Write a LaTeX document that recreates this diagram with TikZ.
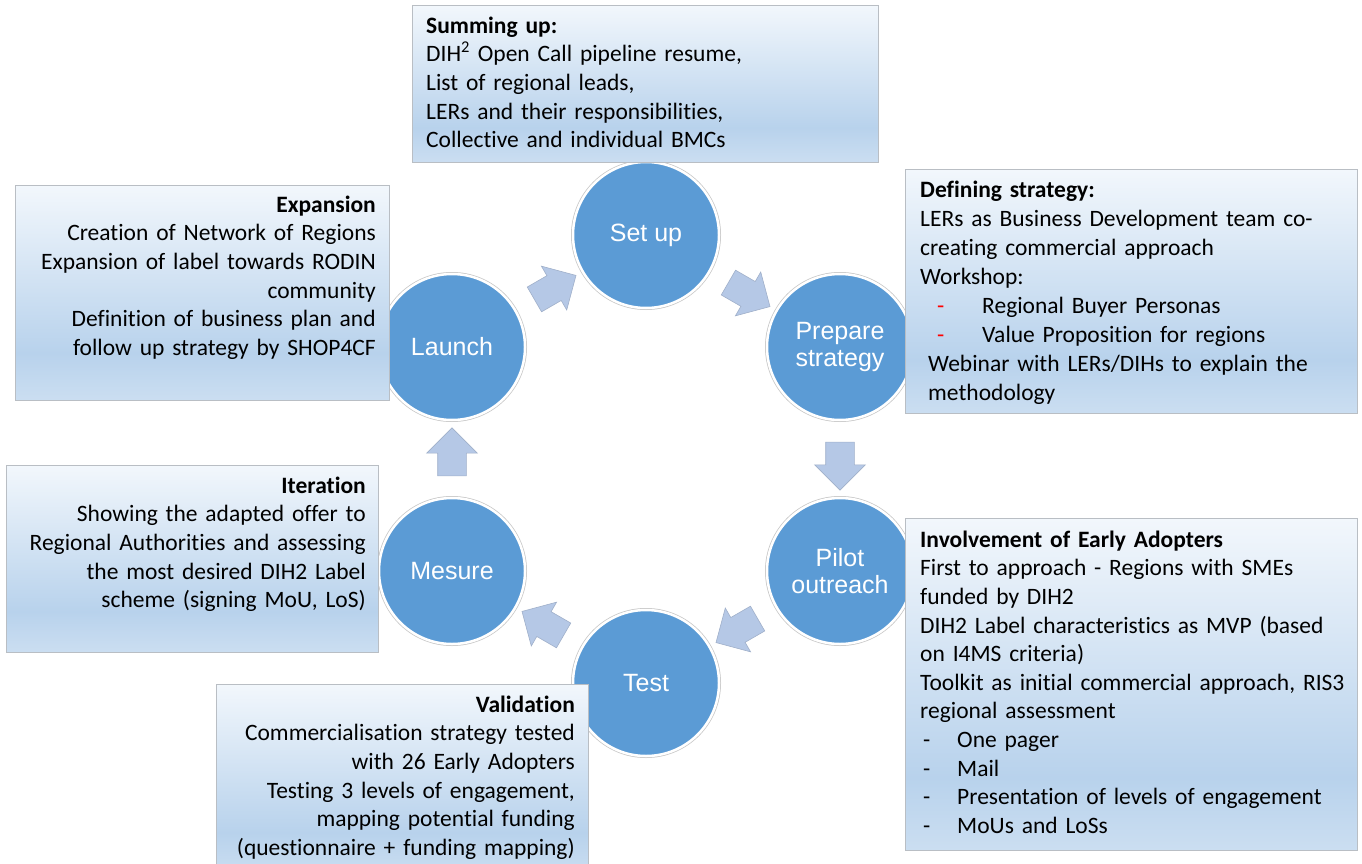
\documentclass[tikz,border=0pt]{standalone}
\usepackage{fontspec}
\setmainfont{Carlito}[Ligatures={NoCommon,NoContextual}]
\newfontfamily\arialfont{Liberation Sans}
\usetikzlibrary{shapes.arrows,calc}
\definecolor{circblue}{RGB}{91,155,213}
\definecolor{arrfill}{RGB}{181,200,230}
\definecolor{arrline}{RGB}{160,176,202}
\definecolor{boxline}{RGB}{185,190,196}
\definecolor{gtop}{RGB}{242,247,252}
\definecolor{gmid}{RGB}{184,210,236}
\definecolor{gbot}{RGB}{203,222,241}
\pgfdeclareverticalshading{boxgrad}{100bp}{color(0bp)=(gbot); color(25bp)=(gbot); color(36bp)=(gmid); color(75bp)=(gtop); color(100bp)=(gtop)}
\begin{document}
\begin{tikzpicture}[x=1pt,y=-1pt,
  stage/.style={circle, fill=circblue, draw=white, line width=2.5pt,
    preaction={draw=black!22, line width=4pt},
    minimum size=146pt, inner sep=0pt, text=white,
    font=\arialfont\fontsize{25}{27}\selectfont, align=center},
  cycarrow/.style={single arrow, fill=arrfill, draw=arrline, line width=0.6pt,
    minimum height=48pt, single arrow head extend=11pt,
    single arrow tip angle=90, inner sep=0pt},
  infobox/.style={draw=boxline, line width=1pt, shading=boxgrad, inner sep=0pt, anchor=north west},
  boxtext/.style={inner sep=0pt, text=black, font=\fontsize{23.5}{28.6}\selectfont},
]
\useasboundingbox (0,0) rectangle (1362,864);
\fill[white] (0,0) rectangle (1362,864);

% stages of the cycle
\node[stage] (setup)  at (646,235) {Set up};
\node[stage] (prep)   at (840,347) {Prepare\\strategy};
\node[stage] (pilot)  at (840,571) {Pilot\\outreach};
\node[stage] (test)   at (646,683) {Test};
\node[stage] (mesure) at (452,571) {Mesure};
\node[stage] (launch) at (452,347) {Launch};

% block arrows between stages
\node[cycarrow, rotate=-30]  (a1) at ($(setup)!0.5!(prep)$) {\rule{0pt}{28pt}};
\node[cycarrow, rotate=-90]  (a2) at ($(prep)!0.5!(pilot)$) {\rule{0pt}{28pt}};
\node[cycarrow, rotate=-150] (a3) at ($(pilot)!0.5!(test)$) {\rule{0pt}{28pt}};
\node[cycarrow, rotate=150]  (a4) at ($(test)!0.5!(mesure)$) {\rule{0pt}{28pt}};
\node[cycarrow, rotate=90]   (a5) at ($(mesure)!0.5!(launch)$) {\rule{0pt}{28pt}};
\node[cycarrow, rotate=30]   (a6) at ($(launch)!0.5!(setup)$) {\rule{0pt}{28pt}};

% text boxes
\node[infobox, minimum width=466pt, minimum height=157pt] (sumbox) at (412,5) {};
\node[infobox, minimum width=452pt, minimum height=244pt] (defbox) at (905,169) {};
\node[infobox, minimum width=452pt, minimum height=332pt] (invbox) at (905,518) {};
\node[infobox, minimum width=372pt, minimum height=190pt] (valbox) at (216,684) {};
\node[infobox, minimum width=372pt, minimum height=187pt] (itbox)  at (6,465) {};
\node[infobox, minimum width=374pt, minimum height=215pt] (expbox) at (15,185) {};

\node[boxtext, anchor=north west, text width=440pt, align=left] (sumtxt) at (426,13) {%
\strut\textbf{Summing up:}\\
DIH\textsuperscript{2} Open Call pipeline resume,\\
List of regional leads,\\
LERs and their responsibilities,\\
Collective and individual BMCs};

\node[boxtext, anchor=north west, text width=440pt, align=left,
  font=\fontsize{23.5}{29}\selectfont] (deftxt) at (920,176.7) {%
\strut\textbf{Defining strategy:}\\
LERs as Business Development team co-\\
creating commercial approach\\
Workshop:\\
\hspace*{17pt}\makebox[45pt][l]{\textcolor{red}{-}}Regional Buyer Personas\\
\hspace*{17pt}\makebox[45pt][l]{\textcolor{red}{-}}Value Proposition for regions\\
\hspace*{8pt}Webinar with LERs/DIHs to explain the\\
\hspace*{8pt}methodology};

\node[boxtext, anchor=north west, text width=440pt, align=left] (invtxt) at (920,527) {%
\strut\textbf{Involvement of Early Adopters}\\
First to approach - Regions with SMEs\\
funded by DIH2\\
DIH2 Label characteristics as MVP (based\\
on I4MS criteria)\\
Toolkit as initial commercial approach, RIS3\\
regional assessment\\
\hspace*{3pt}\makebox[34pt][l]{-}One pager\\
\hspace*{3pt}\makebox[34pt][l]{-}Mail\\
\hspace*{3pt}\makebox[34pt][l]{-}Presentation of levels of engagement\\
\hspace*{3pt}\makebox[34pt][l]{-}MoUs and LoSs};

\node[boxtext, anchor=north east, text width=355pt, align=right] (valtxt) at (575,692) {%
\strut\textbf{Validation}\\
Commercialisation strategy tested\\
with 26 Early Adopters\\
Testing 3 levels of engagement,\\
mapping potential funding\\
(questionnaire + funding mapping)};

\node[boxtext, anchor=north east, text width=355pt, align=right] (ittxt) at (366,473) {%
\strut\textbf{Iteration}\\
Showing the adapted offer to\\
Regional Authorities and assessing\\
the most desired DIH2 Label\\
scheme (signing MoU, LoS)};

\node[boxtext, anchor=north east, text width=355pt, align=right] (exptxt) at (376,192) {%
\strut\textbf{Expansion}\\
Creation of Network of Regions\\
Expansion of label towards RODIN\\
community\\
Definition of business plan and\\
follow up strategy by SHOP4CF};
\end{tikzpicture}
\end{document}
